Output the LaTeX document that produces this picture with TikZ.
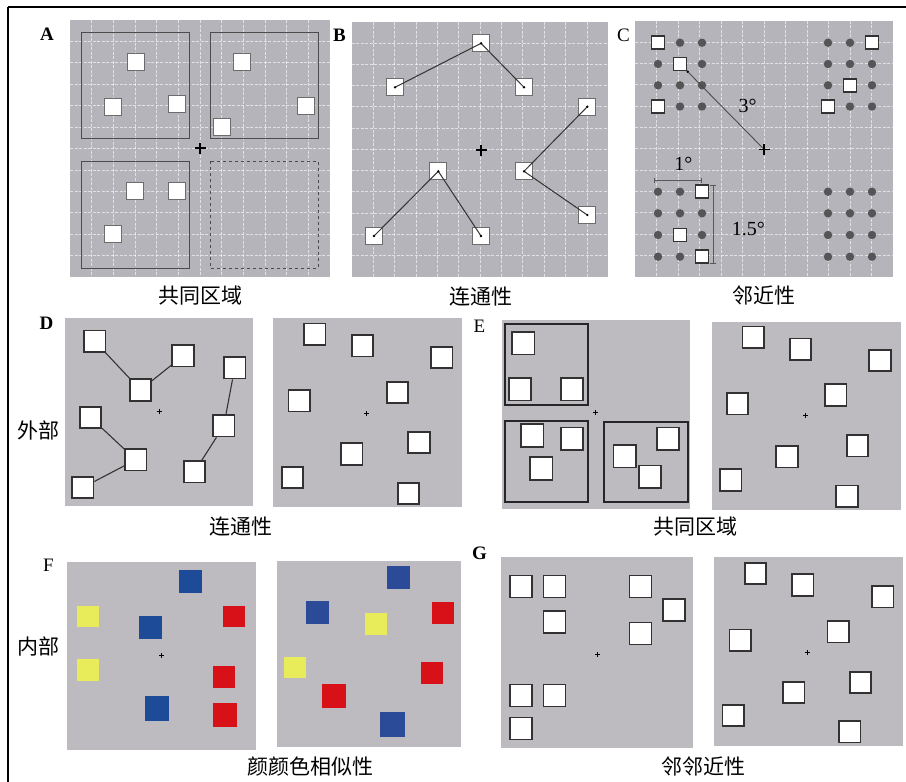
\documentclass[tikz,border=0pt]{standalone}
\usepackage{fontspec}
\setmainfont{Liberation Serif}
\newfontfamily\cjk{Noto Sans CJK SC}
\usetikzlibrary{arrows.meta}
\definecolor{pgrayA}{RGB}{181,180,186}
\definecolor{pgray}{RGB}{189,187,192}
\definecolor{dotgray}{RGB}{85,85,88}
\definecolor{sqborder}{RGB}{50,50,50}
\definecolor{fblue}{RGB}{30,75,152}
\definecolor{fbluetwo}{RGB}{43,74,152}
\definecolor{fred}{RGB}{216,16,24}
\definecolor{fyellow}{RGB}{232,235,90}
\tikzset{
  gridln/.style={white, line width=0.7pt, dash pattern=on 3pt off 1.5pt, opacity=0.6},
  sqa/.style={draw=gray!85!black, fill=white, line width=0.8pt, minimum size=17pt, inner sep=0pt},
  sqc/.style={draw=sqborder, fill=white, line width=1.5pt, minimum size=13pt, inner sep=0pt},
  sqd/.style={draw=sqborder, fill=white, line width=1.6pt, minimum size=21.5pt, inner sep=0pt},
  csq/.style={minimum size=22pt, inner sep=0pt},
  lbl/.style={font=\fontsize{19}{19}\selectfont\bfseries, inner sep=0pt},
  lblr/.style={font=\fontsize{19}{19}\selectfont, inner sep=0pt},
  captxt/.style={font=\cjk\fontsize{21}{21}\selectfont, inner sep=0pt},
  degl/.style={font=\fontsize{20}{20}\selectfont, inner sep=0pt},
  conn/.style={draw=black!80, line width=1pt},
  groupbox/.style={draw=black!70, line width=1pt},
  groupboxE/.style={draw=black!85, line width=1.8pt},
  bigplus/.pic={\draw[line width=1.4pt] (-5.5,0)--(5.5,0) (0,-5.5)--(0,5.5);},
  smallplus/.pic={\draw[line width=0.6pt] (-2.5,0)--(2.5,0) (0,-2.5)--(0,2.5);}
}
\begin{document}
\begin{tikzpicture}[x=1pt,y=-1pt]
\useasboundingbox (0,0) rectangle (906,782);
\fill[white] (0,0) rectangle (906,782);
% outer frame (top and left)
\draw[line width=1.2pt] (8,7) -- (906,7);
\draw[line width=1.2pt] (8,7) -- (8,782);

% ================= Panel A =================
\fill[pgrayA] (70,20) rectangle (330,277);
\foreach \k in {1,...,11}{
  \draw[gridln] ({70+\k*260/12},20) -- ({70+\k*260/12},277);
  \draw[gridln] (70,{20+\k*257/12}) -- (330,{20+\k*257/12});
}
\draw[groupbox] (81,32) rectangle (189,138);
\draw[groupbox] (210,32) rectangle (318,138);
\draw[groupbox] (81,161) rectangle (189,268);
\draw[groupbox, dashed] (210,161) rectangle (318,268);
\foreach \x/\y [count=\i] in {135.7/62.3, 113/107, 177/104, 242/62, 306/106, 222/127, 135/191, 177/191, 113/234}
  \node[sqa] (a\i) at (\x,\y) {};
\pic at (200,148) {bigplus};
\node[lbl] (labA) at (47,34.5) {A};
\node[captxt] (capA) at (200,296) {共同区域};

% ================= Panel B =================
\fill[pgrayA] (351.7,21.7) rectangle (608.3,276.7);
\foreach \k in {1,...,11}{
  \draw[gridln] ({351.7+\k*256.6/12},21.7) -- ({351.7+\k*256.6/12},276.7);
  \draw[gridln] (351.7,{21.7+\k*255/12}) -- (608.3,{21.7+\k*255/12});
}
\foreach \x/\y [count=\i] in {481/43.3, 395/87.3, 524/87.3, 587.3/106.7, 524/171.3, 438.3/171.3, 587.3/215, 374/236, 481/236}
  \node[sqa] (b\i) at (\x,\y) {};
\draw[conn] (b2.center) -- (b1.center) -- (b3.center);
\draw[conn] (b4.center) -- (b5.center) -- (b7.center);
\draw[conn] (b8.center) -- (b6.center) -- (b9.center);
\foreach \i in {1,...,9} \fill[black] (b\i.center) circle (1.3pt);
\pic at (481,150) {bigplus};
\node[lbl] (labB) at (339.5,35.5) {B};
\node[captxt] (capB) at (481,297) {连通性};

% ================= Panel C =================
\fill[pgrayA] (635,20.7) rectangle (893.3,276.7);
\foreach \k in {1,...,11}{
  \draw[gridln] ({635+\k*258.3/12},20.7) -- ({635+\k*258.3/12},276.7);
  \draw[gridln] (635,{20.7+\k*256/12}) -- (893.3,{20.7+\k*256/12});
}
\foreach \cx in {658,680,702,828,850,872}{
  \foreach \ry in {42.7,64,85.3,106.5,191.7,213.3,235,256.7}
    \fill[dotgray] (\cx,\ry) circle (4.2pt);
}
\foreach \x/\y [count=\i] in {658/42.7, 680/64, 658/106.5, 872/42.7, 850/85.3, 828/106.5, 702/191.7, 680/235, 702/256.7}
  \node[sqc] (c\i) at (\x,\y) {};
\coordinate (cplus) at (764,149.3);
\coordinate (cstart) at (687.7,71.7);
\draw[draw=black!70, line width=0.9pt] (cstart) -- (cplus);
\fill[black] (cstart) circle (1.3pt);
\pic at (cplus) {bigplus};
\coordinate (m1a) at (654.3,180);
\coordinate (m1b) at (702.3,180);
\draw[draw=black!65, line width=0.9pt, {Bar[width=5pt]}-{Bar[width=5pt]}] (m1a) -- (m1b);
\coordinate (m2a) at (713.3,185);
\coordinate (m2b) at (713.3,264.3);
\draw[draw=black!65, line width=0.9pt, {Bar[width=6pt]}-{Bar[width=6pt]}] (m2a) -- (m2b);
\node[degl] (d3) at (747.7,106) {3°};
\node[degl] (d1) at (683.3,164.3) {1°};
\node[degl] (d15) at (748.3,229.3) {1.5°};
\node[lblr] (labC) at (623.5,35) {C};
\node[captxt] (capC) at (764,295) {邻近性};

% ================= Panel D =================
\fill[pgray] (65,318.3) rectangle (253.3,506);
\foreach \x/\y [count=\i] in {94.7/341.2, 183/355.8, 140.5/390, 234.7/367.8, 90.5/417.5, 223.8/425.8, 135.8/459.8, 194.5/471.7, 82.8/487.5}
  \node[sqd] (dl\i) at (\x,\y) {};
\draw[conn, line width=1.1pt] (dl1) -- (dl3) -- (dl2);
\draw[conn, line width=1.1pt] (dl4) -- (dl6) -- (dl8);
\draw[conn, line width=1.1pt] (dl5) -- (dl7) -- (dl9);
\pic at (159.3,411) {smallplus};
\fill[pgray] (273.3,318.3) rectangle (462.3,507.3);
\foreach \x/\y [count=\i] in {314.8/334.2, 362.5/345.8, 441.8/357.5, 397.5/392.5, 299.2/400.8, 419/442.5, 351.8/454, 292.5/477.5, 408.5/493.5}
  \node[sqd] (dr\i) at (\x,\y) {};
\pic at (366.7,413.3) {smallplus};
\node[lbl] (labD) at (46.5,323.5) {D};
\node[captxt] (outer) at (38.5,430) {外部};
\node[captxt] (capD) at (240.5,526.5) {连通性};

% ================= Panel E =================
\fill[pgray] (501.7,320) rectangle (690,509.3);
\draw[groupboxE] (505,324) rectangle (588.3,405);
\draw[groupboxE] (505,421) rectangle (588.3,502.3);
\draw[groupboxE] (604,422) rectangle (687.7,502.3);
\foreach \x/\y [count=\i] in {523.3/343.3, 520/389.2, 572/389.2, 532.2/435.5, 572/438.8, 541.3/468.5, 668/438.8, 624.7/456.2, 650/476.8}
  \node[sqd, minimum size=22.5pt] (el\i) at (\x,\y) {};
\pic at (595.7,412.3) {smallplus};
\fill[pgray] (711.7,321.7) rectangle (900.7,510);
\foreach \x/\y [count=\i] in {753.3/337.2, 800.5/349.2, 880/360.5, 835.8/395, 737.5/403.8, 857.5/445.8, 787/456.7, 730.8/480, 847/496.2}
  \node[sqd] (er\i) at (\x,\y) {};
\pic at (805.7,415.7) {smallplus};
\node[lblr] (labE) at (479.3,326) {E};
\node[captxt] (capE) at (695,526.7) {共同区域};

% ================= Panel F =================
\fill[pgray] (66.7,561.7) rectangle (256,750);
\node[csq, fill=fblue, minimum size=23pt] (fl1) at (190.3,581) {};
\node[csq, fill=fyellow, minimum size=21.5pt] (fl2) at (88,616.5) {};
\node[csq, fill=fblue, minimum size=22.5pt] (fl3) at (150.5,627.7) {};
\node[csq, fill=fred, minimum size=21.5pt] (fl4) at (233.8,616.5) {};
\node[csq, fill=fyellow, minimum size=21.5pt] (fl5) at (88.2,670) {};
\node[csq, fill=fred, minimum size=22pt] (fl6) at (223.8,676.5) {};
\node[csq, fill=fblue, minimum size=24.5pt] (fl7) at (157.2,708.5) {};
\node[csq, fill=fred, minimum size=24pt] (fl8) at (224.7,715.3) {};
\pic at (161.7,655.7) {smallplus};
\fill[pgray] (276.7,560.7) rectangle (461,746.7);
\node[csq, fill=fbluetwo, minimum size=23pt] (fr1) at (398,577.5) {};
\node[csq, fill=fbluetwo, minimum size=23pt] (fr2) at (317,612.7) {};
\node[csq, fill=fyellow, minimum size=21.5pt] (fr3) at (376.2,624.2) {};
\node[csq, fill=fred, minimum size=21.5pt] (fr4) at (442.8,613.2) {};
\node[csq, fill=fyellow, minimum size=21.5pt] (fr5) at (294.8,667.5) {};
\node[csq, fill=fred, minimum size=22pt] (fr6) at (432.2,672.5) {};
\node[csq, fill=fred, minimum size=24pt] (fr7) at (334,695.5) {};
\node[csq, fill=fbluetwo, minimum size=25pt] (fr8) at (392.7,724.5) {};
\node[lblr] (labF) at (48.3,565) {F};
\node[captxt] (inner) at (38.5,646) {内部};
\node[captxt] (capF) at (310,766.5) {颜颜色相似性};

% ================= Panel G =================
\fill[pgray] (501,557.3) rectangle (693.3,748.3);
\foreach \x/\y [count=\i] in {520.8/586.5, 554.5/586.5, 640.5/586.5, 674.2/609.8, 554.5/621.7, 640.5/633.3, 520.8/695.5, 554.5/695.5, 520.8/728.5}
  \node[sqd, minimum size=22pt] (gl\i) at (\x,\y) {};
\pic at (597.7,654.3) {smallplus};
\fill[pgray] (714,557.3) rectangle (903.3,745.7);
\foreach \x/\y [count=\i] in {755.5/573.5, 802.8/585, 882.8/596.8, 838.3/631.8, 740.2/640.2, 860.5/682.5, 793.8/692.5, 733.3/715.5, 849.7/731.7}
  \node[sqd] (gr\i) at (\x,\y) {};
\pic at (807.7,652.3) {smallplus};
\node[lbl] (labG) at (479.5,553) {G};
\node[captxt] (capG) at (703.3,766.5) {邻邻近性};
\end{tikzpicture}
\end{document}
